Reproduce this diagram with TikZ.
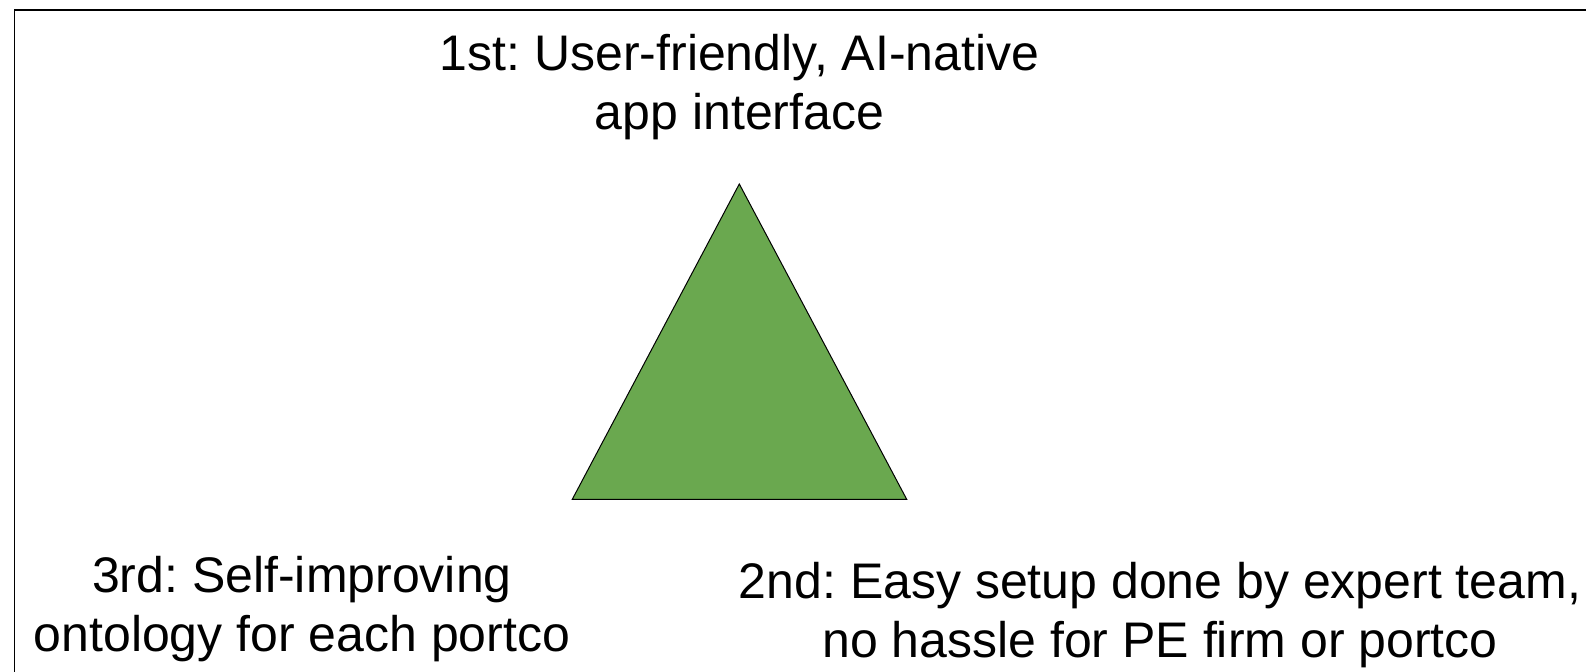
\documentclass[tikz,border=0pt]{standalone}
\usepackage{fontspec}
\setmainfont{Liberation Sans}
\frenchspacing
\definecolor{tri}{HTML}{6AA84F}
\tikzset{
  lbl/.style={font=\fontsize{25}{29.5}\selectfont, align=center, inner sep=0pt, anchor=base},
  frame/.style={draw=black, line width=0.7pt},
  tribox/.style={fill=tri, draw=black, line width=0.5pt, line join=miter}
}
\begin{document}
\begin{tikzpicture}[x=0.5pt, y=-0.5pt]
\useasboundingbox (0,0) rectangle (1586,672);
\begin{scope}
\clip (0,0) rectangle (1586,672);
\draw[frame] (14.5,10) rectangle (1620,720);
\end{scope}
\coordinate (apex) at (739.3,184);
\coordinate (bl) at (572.3,499.3);
\coordinate (br) at (906.7,499.3);
\draw[tribox] (apex) -- (br) -- (bl) -- cycle;
\node[lbl] (first) at (739.5,130) {1st: User-friendly, AI-native\\app interface};
\node[lbl] (third) at (302,652) {3rd: Self-improving\\ontology for each portco};
\node[lbl] (second) at (1160,658) {2nd: Easy setup done by expert team,\\no hassle for PE firm or portco};
\end{tikzpicture}
\end{document}
